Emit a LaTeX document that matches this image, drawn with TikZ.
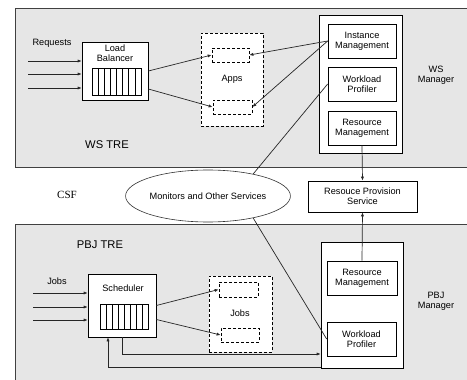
\documentclass[tikz,border=0pt]{standalone}
\usepackage{fontspec}
\setmainfont{Liberation Sans}
\newfontfamily\serifcsf{Liberation Serif}
\usetikzlibrary{arrows.meta,shapes.geometric}
\definecolor{bgray}{HTML}{E6E6E6}
\newcommand{\fsmall}{\fontsize{9.2}{10.2}\selectfont}
\newcommand{\fbig}{\fontsize{11.2}{13}\selectfont}
\tikzset{
  box/.style={draw=black, fill=white, line width=0.7pt, inner sep=0pt, align=center, font=\fsmall},
  dbox/.style={draw=black, fill=white, line width=0.7pt, dash pattern=on 3pt off 2pt, inner sep=0pt},
  lbl/.style={inner sep=0pt, align=center, font=\fsmall},
  biglbl/.style={inner sep=0pt, font=\fbig},
  arr/.style={draw=black!85, line width=0.7pt, -{Latex[length=4pt,width=3.2pt]}},
  ln/.style={draw=black!85, line width=0.7pt},
  region/.style={draw=black!75, line width=0.9pt}
}
\newcommand{\queue}[5]{% x1 y1 x2 y2 name
  \node[box, minimum width={#3-#1}, minimum height={#4-#2}] (#5) at ({(#1+#3)/2},{(#2+#4)/2}) {};
  \foreach \k in {1,...,7} {\draw[line width=0.6pt] ({#1+\k*(#3-#1)/8},#2) -- ({#1+\k*(#3-#1)/8},#4);}
}
\begin{document}
\begin{tikzpicture}[x=1pt,y=-1pt]
\useasboundingbox (0,0) rectangle (467,380);
% regions
\fill[bgray] (15,8) rectangle (467,167);
\draw[region] (467,8) -- (15,8) -- (15,167) -- (467,167);
\fill[bgray] (15,224) rectangle (467,380);
\draw[region] (467,224) -- (15,224) -- (15,380);

% WS TRE
\node[box, minimum width=66pt, minimum height=58pt] (lb) at (115,71) {};
\node[lbl] (lbt) at (115,53) {Load\\Balancer};
\queue{92}{68}{141}{95}{lbq}
\node[lbl] (req) at (52,43) {Requests};
\coordinate (r1) at (28,61);
\coordinate (r2) at (28,74);
\coordinate (r3) at (28,88);
\draw[arr] (r1) -- (r1 -| lb.west);
\draw[arr] (r2) -- (r2 -| lb.west);
\draw[arr] (r3) -- (r3 -| lb.west);

\node[dbox, minimum width=62pt, minimum height=93pt] (apps) at (232,79.5) {};
\node[dbox, minimum width=37pt, minimum height=14pt] (app1) at (230.5,55) {};
\node[dbox, minimum width=39pt, minimum height=14pt] (app2) at (232.5,107) {};
\node[lbl] (appst) at (232,79) {Apps};

\node[box, minimum width=83pt, minimum height=138pt] (wsm) at (360.5,84) {};
\node[box, minimum width=68pt, minimum height=34pt] (im) at (362,41) {Instance\\Management};
\node[box, minimum width=68pt, minimum height=34pt] (wp) at (362,84) {Workload\\Profiler};
\node[box, minimum width=68pt, minimum height=34pt] (rm) at (362,128) {Resource\\Management};
\node[lbl] (wsmt) at (436,75) {WS\\Manager};
\node[biglbl] (wstre) at (107,145) {WS TRE};

\draw[arr] (lb.east) -- (app1.west);
\draw[arr] ([yshift=-18pt]lb.east) -- (app2.west);
\draw[arr] (im.west) -- (app1.east);
\draw[arr] (im.west) -- (app2.east);

% CSF
\node[inner sep=0pt, font=\serifcsf\fontsize{11}{13}\selectfont] (csf) at (67,195) {CSF};
\node[draw=black!80, line width=0.6pt, ellipse, minimum width=161pt, minimum height=52pt, inner sep=0pt, font=\fsmall] (ell) at (208,196) {Monitors and Other Services};
\node[box, minimum width=109pt, minimum height=31pt] (rps) at (362.5,196.5) {Resouce Provision\\Service};

% PBJ TRE
\node[biglbl] (pbjtre) at (100,245) {PBJ TRE};
\node[box, minimum width=68pt, minimum height=63pt] (sched) at (122,305.5) {};
\node[lbl] (schedt) at (123,288) {Scheduler};
\queue{100}{304}{148}{329}{sq}
\node[lbl] (jobsin) at (57,281) {Jobs};
\coordinate (j1) at (33,293);
\coordinate (j2) at (33,307);
\coordinate (j3) at (33,320);
\draw[arr] (j1) -- (j1 -| sched.west);
\draw[arr] (j2) -- (j2 -| sched.west);
\draw[arr] (j3) -- (j3 -| sched.west);

\node[dbox, minimum width=63pt, minimum height=76pt] (jobs) at (240.5,314) {};
\node[dbox, minimum width=39pt, minimum height=15pt] (job1) at (238.5,289.5) {};
\node[dbox, minimum width=38pt, minimum height=14pt] (job2) at (240,335) {};
\node[lbl] (jobst) at (240,313) {Jobs};

\node[box, minimum width=82pt, minimum height=126pt] (pbjm) at (362,305) {};
\node[box, minimum width=70pt, minimum height=34pt] (prm) at (362,278) {Resource\\Management};
\node[box, minimum width=69pt, minimum height=34pt] (pwp) at (361.5,339) {Workload\\Profiler};
\node[lbl] (pbjmt) at (436,301) {PBJ\\Manager};

\draw[arr] (sched.east) -- (job1.west);
\draw[arr] ([yshift=-14pt]sched.east) -- (job2.west);
\draw[arr] (sched.south) |- ([yshift=-49pt]pbjm.west);
\draw[arr] ([yshift=-62pt]pbjm.west) -| ([xshift=-14pt]sched.south);

% cross connections
\draw[arr] (rm.south) -- (rps.north);
\draw[arr] (prm.north) -- (rps.south);
\draw[ln] (wp.west) -- (ell.26);
\draw[ln] (ell.-26) -- (pwp.west);
\end{tikzpicture}
\end{document}
